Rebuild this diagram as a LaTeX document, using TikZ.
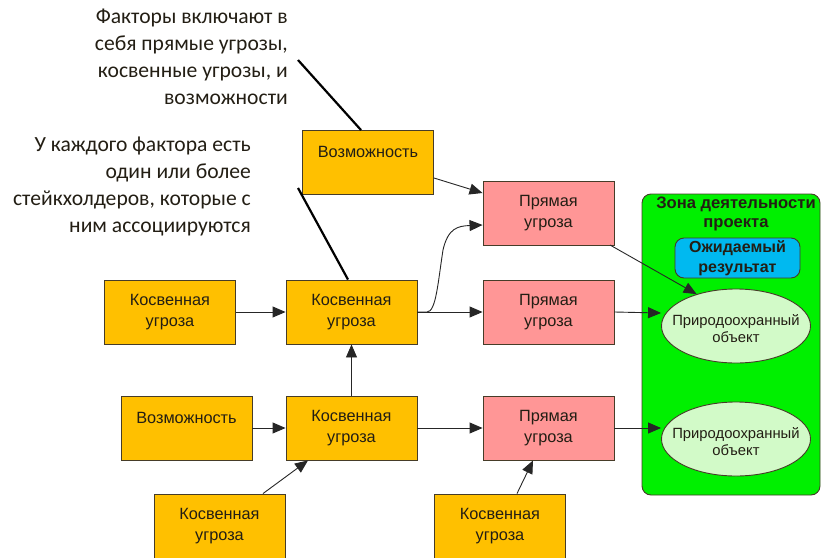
\documentclass[tikz,border=0pt]{standalone}
\usepackage{fontspec}
\setmainfont{Liberation Sans}
\newfontfamily\notefont{Carlito}
\usetikzlibrary{arrows.meta,shapes.geometric}
\definecolor{indirect}{RGB}{255,192,0}
\definecolor{direct}{RGB}{255,150,150}
\definecolor{zone}{RGB}{0,240,0}
\definecolor{result}{RGB}{0,185,240}
\definecolor{target}{RGB}{210,250,200}
\definecolor{edge}{RGB}{70,60,40}
\definecolor{ink}{RGB}{35,30,20}
\tikzset{
  box/.style={draw=edge, line width=0.9pt, minimum width=131pt, minimum height=64pt,
    align=center, inner sep=0pt, text=ink, font=\fontsize{16.3}{21}\selectfont},
  indbox/.style={box, fill=indirect},
  dirbox/.style={box, fill=direct},
  targetshape/.style={ellipse, draw=edge, line width=0.9pt, fill=target, minimum width=149pt,
    minimum height=74pt, inner sep=0pt},
  targettext/.style={align=center, inner sep=0pt, text=ink, font=\fontsize{14.8}{17.5}\selectfont},
  link/.style={draw=black!85, line width=0.9pt, -{Triangle[length=13pt,width=11pt]}},
  pointer/.style={draw=black, line width=2.2pt},
  note/.style={align=right, anchor=north east, inner sep=0pt, text=ink,
    font=\notefont\fontsize{21.6}{27}\selectfont},
}
\begin{document}
\begin{tikzpicture}[x=1pt,y=-1pt]
\useasboundingbox (0,0) rectangle (822,557);

% project zone
\node[draw=edge, line width=0.9pt, fill=zone, rounded corners=9pt, minimum width=178pt,
  minimum height=301pt, inner sep=0pt] (zone) at (731,344.5) {};
\node[align=center, text=ink, font=\bfseries\fontsize{16.6}{18.5}\selectfont, inner sep=0pt] (zonetitle)
  at (736,214) {Зона деятельности\\проекта};
\node[draw=edge, line width=0.9pt, fill=result, rounded corners=9pt, minimum width=125pt,
  minimum height=40pt, inner sep=0pt, align=center, text=ink,
  font=\bfseries\fontsize{16}{19.5}\selectfont]
  (result) at (737.5,258) {Ожидаемый\\результат};
\node[targetshape] (t1) at (736,326) {};
\node[targettext] (t1text) at (736,328.5) {Природоохранный\\объект};
\node[targetshape] (t2) at (736,439) {};
\node[targettext] (t2text) at (736,441.5) {Природоохранный\\объект};

% factors
\node[indbox] (opp1) at (368,162.5) {Возможность\\~};
\node[dirbox] (d1) at (548.5,213) {Прямая\\угроза};
\node[dirbox] (d2) at (548.5,312) {Прямая\\угроза};
\node[dirbox] (d3) at (548.5,428) {Прямая\\угроза};
\node[indbox] (i0) at (170,312) {Косвенная\\угроза};
\node[indbox] (i1) at (351.5,312) {Косвенная\\угроза};
\node[indbox] (opp2) at (186.5,428) {Возможность\\~};
\node[indbox] (i2) at (351.5,428) {Косвенная\\угроза};
\node[indbox] (i3) at (219.5,526) {Косвенная\\угроза};
\node[indbox] (i4) at (500,526) {Косвенная\\угроза};

% connectors
\draw[link] (opp1.east |- 0,178) -- (d1.west |- 0,193);
\draw[link] (i0) -- (i1);
\draw[link] (i1) -- (d2);
\draw[link] (i1.east) -- (427,312) .. controls (436,312) and (438,282) .. (443,250)
  .. controls (448,228) and (458,226) .. (d1.west |- 0,225);
\draw[link] (i2) -- (i1);
\draw[link] (opp2) -- (i2);
\draw[link] (i2) -- (d3);
\draw[link] (i3.north -| 263,0) -- (i2.south -| 308,0);
\draw[link] (i4.north -| 517,0) -- (d3.south -| 533,0);
\draw[link] (610,245) -- (t1.141);
\draw[link] (d2.east) -- (t1.west |- 0,313);
\draw[link] (d3.east) -- (t2.west |- 0,428);

% notes
\node[note] (note1) at (288,9) {Факторы включают в\\себя прямые угрозы,\\косвенные угрозы, и\\возможности};
\node[note] (note2) at (251,137) {У каждого фактора есть\\один или более\\стейкхолдеров, которые с\\ним ассоциируются};
\coordinate (p1) at (298,60);
\coordinate (p2) at (298,188);
\draw[pointer] (p1) -- (opp1.north -| 361,0);
\draw[pointer] (p2) -- (i1.north -| 348,0);
\end{tikzpicture}
\end{document}
